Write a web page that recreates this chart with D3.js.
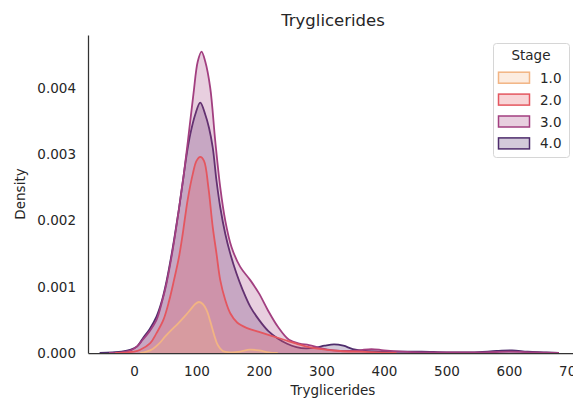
<!DOCTYPE html>
<html>
<head>
<meta charset="utf-8">
<script src="https://cdn.jsdelivr.net/npm/d3@7"></script>
<style>
  body { margin: 0; background: #fff; }
  svg { display: block; font-family: "DejaVu Sans", sans-serif; }
  .axis text { fill: #262626; font-size: 13.5px; }
  .axis path { stroke: #333; stroke-width: 1.25; }
</style>
</head>
<body>
<script>
// KDE curves (Tryglicerides value, density)
const stages = ["1.0", "2.0", "3.0", "4.0"];
const colors = ["#f2b483", "#e4565f", "#a23f80", "#4e2c6c"];

const stage1X = [10, 20, 30, 40, 50, 60, 70, 80, 90, 98, 104, 110, 116, 122, 128, 134, 142, 155, 170, 185, 200, 215, 230];
const stage1Y = [0, 0.00002, 0.00006, 0.00014, 0.00025, 0.00035, 0.00044, 0.00054, 0.00065, 0.00074, 0.00077, 0.00074, 0.00065, 0.00048, 0.00028, 0.00012, 0.00003, 0.00001, 0.00002, 0.00005, 0.00004, 0.00001, 0];

const stage2X = [-30, -10, 0, 10, 26, 36, 47, 56, 64, 72, 78, 86, 94, 100, 106, 112, 119, 126, 132, 138, 146, 154, 165, 180, 200, 220, 240, 260, 280, 300, 330, 360, 390, 420];
const stage2Y = [0, 0.00001, 0.00002, 0.00005, 0.00015, 0.0003, 0.0005, 0.00078, 0.0011, 0.00145, 0.0018, 0.00232, 0.0027, 0.0029, 0.00296, 0.0029, 0.0025, 0.0019, 0.0015, 0.0011, 0.0008, 0.0006, 0.00046, 0.00038, 0.00032, 0.00026, 0.0002, 0.00014, 0.00009, 0.00006, 0.00003, 0.00002, 0.00001, 0];

const stage3X = [-40, -20, -5, 5, 14, 25, 36, 45, 52, 60, 66, 72, 79, 86, 95, 102, 108, 114, 122, 130, 138, 146, 156, 170, 186, 200, 214, 230, 248, 265, 280, 300, 320, 340, 360, 380, 400, 430, 460, 500, 560, 600, 640, 680];
const stage3Y = [0, 0.00001, 0.00004, 0.0001, 0.0002, 0.00033, 0.0005, 0.00078, 0.00105, 0.00145, 0.0018, 0.00218, 0.00265, 0.00318, 0.0039, 0.0044, 0.00455, 0.0044, 0.004, 0.0032, 0.0025, 0.002, 0.0016, 0.0013, 0.0011, 0.0009, 0.00065, 0.0004, 0.0002, 0.00014, 0.00012, 0.00007, 0.00004, 0.00003, 0.00004, 0.00006, 0.00004, 0.00002, 0.00001, 0.00001, 0.00001, 0.00002, 0.00001, 0];

const stage4X = [-55, -35, -20, -5, 5, 14, 25, 36, 45, 52, 60, 66, 72, 78, 84, 90, 98, 106, 114, 120, 126, 132, 138, 146, 154, 164, 174, 186, 200, 215, 230, 245, 260, 275, 290, 305, 320, 335, 350, 370, 400, 430, 460, 500, 540, 580, 605, 630, 660, 680];
const stage4Y = [0, 0.00001, 0.00002, 0.00005, 0.0001, 0.00022, 0.00036, 0.00055, 0.0008, 0.00108, 0.00148, 0.00182, 0.00218, 0.00258, 0.00298, 0.0033, 0.0036, 0.00378, 0.0036, 0.0034, 0.0031, 0.0026, 0.0022, 0.0018, 0.0015, 0.0012, 0.00095, 0.0007, 0.0005, 0.00033, 0.00022, 0.00014, 0.00009, 0.00007, 0.00008, 0.00011, 0.00013, 0.00011, 0.00006, 0.00003, 0.00002, 0.00002, 0.00002, 0.00001, 0.00001, 0.00003, 0.00004, 0.00002, 0.00001, 0];

const xTicks = [0, 100, 200, 300, 400, 500, 600, 700];
const yTicks = [0, 0.001, 0.002, 0.003, 0.004];

const series = [
  { stage: stages[0], xs: stage1X, ys: stage1Y, color: colors[0] },
  { stage: stages[1], xs: stage2X, ys: stage2Y, color: colors[1] },
  { stage: stages[2], xs: stage3X, ys: stage3Y, color: colors[2] },
  { stage: stages[3], xs: stage4X, ys: stage4Y, color: colors[3] },
];

// ------------------------ D3 ------------------------
const WIDTH = 573;
const HEIGHT = 400;
const PLOT = { l: 88, r: 578, t: 35, b: 353 };

const svg = d3.select("body").append("svg")
  .attr("width", WIDTH)
  .attr("height", HEIGHT);

const x = d3.scaleLinear().domain([-73.6, 710.4]).range([PLOT.l, PLOT.r]);
const y = d3.scaleLinear().domain([0, 0.0048]).range([PLOT.b, PLOT.t]);

const curve = d3.curveCatmullRom.alpha(0.5);

const area = d3.area()
  .x((d) => x(d[0]))
  .y0(y(0))
  .y1((d) => y(d[1]))
  .curve(curve);

const line = d3.line()
  .x((d) => x(d[0]))
  .y((d) => y(d[1]))
  .curve(curve);

// seaborn draws the last hue level first
const layers = svg.append("g").selectAll("g")
  .data(series.slice().reverse())
  .join("g");

layers.append("path")
  .attr("d", (s) => area(s.xs.map((v, i) => [v, s.ys[i]])))
  .attr("fill", (s) => s.color)
  .attr("fill-opacity", 0.25);

layers.append("path")
  .attr("d", (s) => line(s.xs.map((v, i) => [v, s.ys[i]])))
  .attr("fill", "none")
  .attr("stroke", (s) => s.color)
  .attr("stroke-width", 1.8);

// axes (no tick marks, only left and bottom spines)
svg.append("g")
  .attr("class", "axis")
  .attr("transform", `translate(0, ${PLOT.b})`)
  .call(d3.axisBottom(x).tickValues(xTicks).tickSize(0).tickPadding(13).tickSizeOuter(0));

svg.append("g")
  .attr("class", "axis")
  .attr("transform", `translate(${PLOT.l}, 0)`)
  .call(d3.axisLeft(y).tickValues(yTicks).tickFormat(d3.format(".3f")).tickSize(0).tickPadding(12).tickSizeOuter(0));

svg.selectAll(".axis").attr("font-size", null).attr("font-family", null);

// titles
svg.append("text")
  .attr("x", 333).attr("y", 25.5)
  .attr("text-anchor", "middle")
  .attr("font-size", "16.5px")
  .attr("fill", "#262626")
  .text("Tryglicerides");

svg.append("text")
  .attr("x", 333).attr("y", 395)
  .attr("text-anchor", "middle")
  .attr("font-size", "13.5px")
  .attr("fill", "#262626")
  .text("Tryglicerides");

svg.append("text")
  .attr("transform", "translate(25, 194) rotate(-90)")
  .attr("text-anchor", "middle")
  .attr("font-size", "13.5px")
  .attr("fill", "#262626")
  .text("Density");

// legend
const legend = svg.append("g");
legend.append("rect")
  .attr("x", 493.5).attr("y", 43.5)
  .attr("width", 76).attr("height", 114)
  .attr("rx", 3)
  .attr("fill", "#fff")
  .attr("stroke", "#d6d6d6");

legend.append("text")
  .attr("x", 531).attr("y", 60)
  .attr("text-anchor", "middle")
  .attr("font-size", "13.5px")
  .attr("fill", "#262626")
  .text("Stage");

const items = legend.selectAll(".item")
  .data(series)
  .join("g")
  .attr("class", "item")
  .attr("transform", (d, i) => `translate(0, ${77.7 + i * 21.9})`);

items.append("rect")
  .attr("x", 498.5).attr("y", -5.5)
  .attr("width", 31).attr("height", 11)
  .attr("fill", (d) => d.color)
  .attr("fill-opacity", 0.25)
  .attr("stroke", (d) => d.color)
  .attr("stroke-width", 1.5);

items.append("text")
  .attr("x", 540).attr("y", 5)
  .attr("font-size", "13.5px")
  .attr("fill", "#262626")
  .text((d) => d.stage);
</script>
</body>
</html>
